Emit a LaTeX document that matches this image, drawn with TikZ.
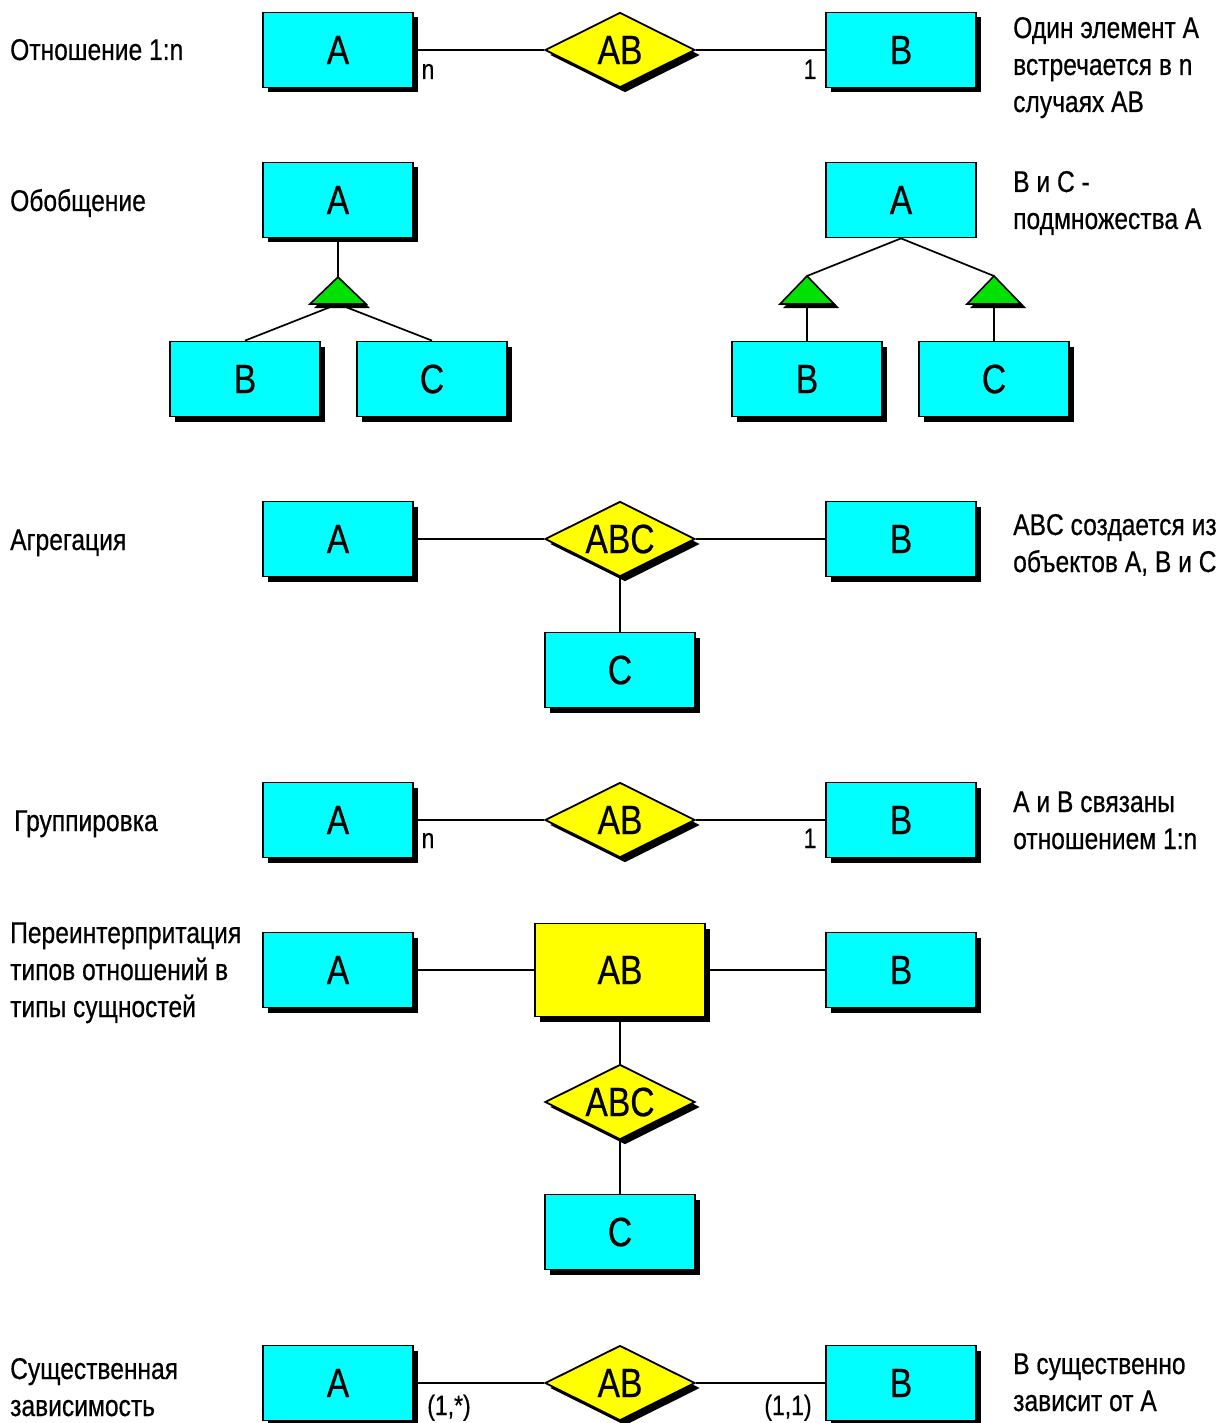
\documentclass[tikz,border=0pt]{standalone}
\usepackage{fontspec}
\setmainfont[FakeStretch=0.82,FakeBold=0.5]{Liberation Sans}
\usetikzlibrary{shapes.geometric,shadows}
\definecolor{entcyan}{RGB}{0,255,255}
\definecolor{relyellow}{RGB}{255,255,0}
\definecolor{isagreen}{RGB}{0,225,0}
\newcommand{\boxfont}{\fontsize{41}{48}\selectfont}
\newcommand{\lblfont}{\fontsize{30}{37}\selectfont}
\newcommand{\cardfont}{\fontsize{28}{34}\selectfont}
\tikzset{
  solidshadow/.style={general shadow={fill=black, shadow xshift=5pt, shadow yshift=-5pt}},
  ent/.style={rectangle, draw=black, line width=1.8pt, fill=entcyan,
    minimum width=150pt, minimum height=75pt, inner sep=0pt, font=\boxfont},
  entsh/.style={ent, solidshadow},
  relbox/.style={ent, fill=relyellow, minimum width=170pt, minimum height=93pt, solidshadow},
  rel/.style={diamond, aspect=2, draw=black, line width=1.8pt, fill=relyellow,
    minimum width=150pt, minimum height=75pt, inner sep=0pt, font=\boxfont, solidshadow},
  conn/.style={draw=black, line width=1.7pt},
  lbl/.style={font=\lblfont, inner sep=0pt, anchor=base west},
  card/.style={font=\cardfont, inner sep=0pt, anchor=base},
  isa/.style={fill=isagreen, draw=black, line width=1.6pt, line join=miter},
  isashadow/.style={fill=black},
}
\begin{document}
\begin{tikzpicture}[x=1pt, y=-1pt]
\useasboundingbox[fill=white] (0,0) rectangle (1224,1423);

% ---------- 1:n relationship ----------
\node[lbl] (l1) at (10,60) {Отношение 1:n};
\node[entsh] (a1) at (338,50) {A};
\node[rel] (r1) at (620,50) {AB};
\node[entsh] (b1) at (901,50) {B};
\draw[conn] (a1) -- (r1);
\draw[conn] (r1) -- (b1);
\node[card] (n1) at (428,79) {n};
\node[card] (o1) at (810,79) {1};
\node[lbl] (d1a) at (1013,38) {Один элемент A};
\node[lbl] (d1b) at (1013,75) {встречается в n};
\node[lbl] (d1c) at (1013,112) {случаях AB};

% ---------- generalization ----------
\node[lbl] (l2) at (10,211) {Обобщение};
\node[entsh] (ga) at (338,200) {A};
\node[entsh] (gb) at (245,379) {B};
\node[entsh] (gc) at (432,379) {C};
\coordinate (gtop) at (338,277);
\coordinate (gbase) at (338,304);
\draw[conn] (ga) -- (gtop);
\draw[conn] (gbase) -- (gb.north);
\draw[conn] (gbase) -- (gc.north);
\fill[isashadow] (342,281) -- (370,308) -- (314,308) -- cycle;
\draw[isa] (gtop) -- (366,304) -- (310,304) -- cycle;

\node[ent] (ha) at (901,200) {A};
\node[entsh] (hb) at (807,379) {B};
\node[entsh] (hc) at (994,379) {C};
\coordinate (htl) at (807,276);
\coordinate (hbl) at (807,304);
\coordinate (htr) at (994,276);
\coordinate (hbr) at (994,304);
\draw[conn] (ha.south) -- (htl);
\draw[conn] (ha.south) -- (htr);
\draw[conn] (hbl) -- (hb.north);
\draw[conn] (hbr) -- (hc.north);
\fill[isashadow] (811,280) -- (839,308) -- (783,308) -- cycle;
\draw[isa] (htl) -- (834,304) -- (780,304) -- cycle;
\fill[isashadow] (998,280) -- (1026,308) -- (970,308) -- cycle;
\draw[isa] (htr) -- (1021,304) -- (967,304) -- cycle;
\node[lbl] (d2a) at (1013,192) {B и C -};
\node[lbl] (d2b) at (1013,229) {подмножества A};

% ---------- aggregation ----------
\node[lbl] (l3) at (10,550) {Агрегация};
\node[entsh] (a3) at (338,539) {A};
\node[rel] (r3) at (620,539) {ABC};
\node[entsh] (b3) at (901,539) {B};
\node[entsh] (c3) at (620,670) {C};
\draw[conn] (a3) -- (r3);
\draw[conn] (r3) -- (b3);
\draw[conn] (r3) -- (c3);
\node[lbl] (d3a) at (1013,535) {ABC создается из};
\node[lbl] (d3b) at (1013,572) {объектов A, B и C};

% ---------- grouping ----------
\node[lbl] (l4) at (14,831) {Группировка};
\node[entsh] (a4) at (338,820) {A};
\node[rel] (r4) at (620,820) {AB};
\node[entsh] (b4) at (901,820) {B};
\draw[conn] (a4) -- (r4);
\draw[conn] (r4) -- (b4);
\node[card] (n4) at (428,848) {n};
\node[card] (o4) at (810,848) {1};
\node[lbl] (d4a) at (1013,812) {A и B связаны};
\node[lbl] (d4b) at (1013,849) {отношением 1:n};

% ---------- reinterpretation ----------
\node[lbl] (l5a) at (10,943) {Переинтерпритация};
\node[lbl] (l5b) at (10,980) {типов отношений в};
\node[lbl] (l5c) at (10,1017) {типы сущностей};
\node[entsh] (a5) at (338,970) {A};
\node[relbox] (r5) at (620,970) {AB};
\node[entsh] (b5) at (901,970) {B};
\node[rel] (s5) at (620,1102) {ABC};
\node[entsh] (c5) at (620,1232) {C};
\draw[conn] (a5) -- (r5);
\draw[conn] (r5) -- (b5);
\draw[conn] (r5) -- (s5);
\draw[conn] (s5) -- (c5);

% ---------- existence dependency ----------
\node[lbl] (l6a) at (10,1379) {Существенная};
\node[lbl] (l6b) at (10,1416) {зависимость};
\node[entsh] (a6) at (338,1383) {A};
\node[rel] (r6) at (620,1383) {AB};
\node[entsh] (b6) at (901,1383) {B};
\draw[conn] (a6) -- (r6);
\draw[conn] (r6) -- (b6);
\node[card] (m6) at (449,1415) {(1,*)};
\node[card] (o6) at (788,1415) {(1,1)};
\node[lbl] (d6a) at (1013,1374) {B существенно};
\node[lbl] (d6b) at (1013,1411) {зависит от A};
\end{tikzpicture}
\end{document}
